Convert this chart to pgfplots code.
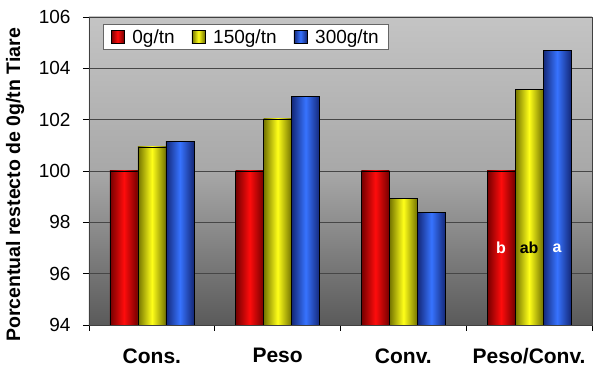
\documentclass[border=0pt]{standalone}
\usepackage{fontspec}
\setmainfont{Liberation Sans}
\usepackage{pgfplots}
\pgfplotsset{compat=1.18}
\definecolor{bgtop}{RGB}{196,196,196}
\definecolor{bgmid}{RGB}{168,168,168}
\definecolor{bgbot}{RGB}{90,90,90}
\definecolor{redc}{RGB}{255,12,12}
\definecolor{redd}{RGB}{115,0,0}
\definecolor{yelc}{RGB}{255,255,25}
\definecolor{yeld}{RGB}{115,115,0}
\definecolor{bluc}{RGB}{55,115,255}
\definecolor{blud}{RGB}{20,40,120}
\definecolor{gridc}{RGB}{70,70,70}
\pgfplotsset{
  redbar/.style={draw=black, line width=0.7pt, left color=redd, right color=redd, middle color=redc},
  yelbar/.style={draw=black, line width=0.7pt, left color=yeld, right color=yeld, middle color=yelc},
  blubar/.style={draw=black, line width=0.7pt, left color=blud, right color=blud, middle color=bluc},
}
\begin{document}
\begin{tikzpicture}
\useasboundingbox (0,0) rectangle (600pt,369pt);
\begin{axis}[
  at={(89pt,44pt)}, anchor=south west,
  scale only axis, width=503pt, height=308pt,
  ymin=94, ymax=106, ytick={94,96,...,106},
  xmin=-0.5, xmax=3.5,
  xtick={0,1,2,3}, xticklabels={Cons.,Peso,Conv.,Peso/Conv.},
  minor xtick={-0.5,0.5,1.5,2.5,3.5},
  major x tick style={draw=none},
  tick align=outside, tick pos=left,
  major tick length=6pt, minor tick length=6pt,
  tick style={black, line width=0.6pt},
  ymajorgrids, grid style={gridc, line width=0.6pt},
  axis line style={black!75, line width=0.7pt},
  axis background/.style={top color=bgtop, bottom color=bgbot, middle color=bgmid},
  ybar=0pt, bar width=28pt,
  /pgf/number format/assume math mode=true,
  yticklabel style={font=\fontsize{19}{19}\selectfont, xshift=-9pt},
  xticklabel style={font=\bfseries\fontsize{21}{21}\selectfont, yshift=-14pt},
  ylabel={Porcentual restecto de 0g/tn Tiare},
  ylabel style={font=\bfseries\fontsize{19.5}{20}\selectfont, at={(axis description cs:-0.147,0.455)}, anchor=center},
  legend style={at={(0.027,0.977)}, anchor=north west, draw=gray!80!black, fill=white,
    font=\fontsize{19}{22}\selectfont, inner xsep=8pt, inner ysep=3pt,
    nodes={inner xsep=2pt},
    /tikz/every odd column/.append style={column sep=6pt},
    /tikz/every even column/.append style={column sep=15pt}},
  legend columns=3,
  legend image code/.code={\draw[#1,draw=black,line width=0.6pt] (0pt,-6.5pt) rectangle (13pt,6.5pt);},
]
% 0 g/tn
\addplot[redbar, bar shift=-28pt, forget plot] coordinates {(0,100)};
\addplot[redbar, bar shift=-28pt, forget plot] coordinates {(1,100)};
\addplot[redbar, bar shift=-28pt, forget plot] coordinates {(2,100)};
\addplot[redbar, bar shift=-28pt, forget plot] coordinates {(3,100)};
% 150 g/tn
\addplot[yelbar, bar shift=0pt, forget plot] coordinates {(0,100.94)};
\addplot[yelbar, bar shift=0pt, forget plot] coordinates {(1,102.03)};
\addplot[yelbar, bar shift=0pt, forget plot] coordinates {(2,98.92)};
\addplot[yelbar, bar shift=0pt, forget plot] coordinates {(3,103.18)};
% 300 g/tn
\addplot[blubar, bar shift=28pt, forget plot] coordinates {(0,101.16)};
\addplot[blubar, bar shift=28pt, forget plot] coordinates {(1,102.91)};
\addplot[blubar, bar shift=28pt, forget plot] coordinates {(2,98.37)};
\addplot[blubar, bar shift=28pt, forget plot] coordinates {(3,104.69)};
\addlegendimage{redbar}\addlegendentry{0g/tn}
\addlegendimage{yelbar}\addlegendentry{150g/tn}
\addlegendimage{blubar}\addlegendentry{300g/tn}
\node[font=\bfseries\fontsize{16}{16}\selectfont, text=white] at (axis cs:2.777,97) {b};
\node[font=\bfseries\fontsize{16}{16}\selectfont, text=black] at (axis cs:3,97) {ab};
\node[font=\bfseries\fontsize{16}{16}\selectfont, text=white] at (axis cs:3.223,97) {a};
\end{axis}
\end{tikzpicture}
\end{document}
